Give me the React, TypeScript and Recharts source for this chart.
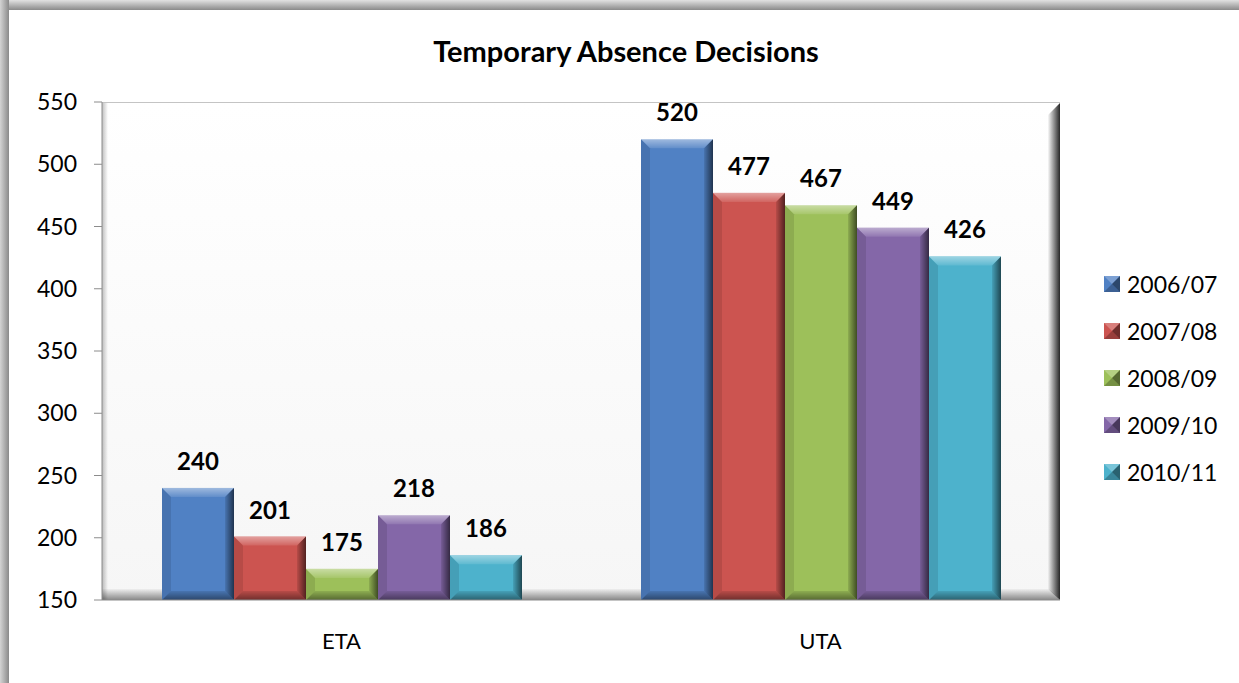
import { BarChart, Bar, XAxis, YAxis, LabelList } from "recharts";

const CATEGORIES = ["ETA", "UTA"];
const SERIES = ["2006/07", "2007/08", "2008/09", "2009/10", "2010/11"];
const VALUES_2006 = [240, 520];
const VALUES_2007 = [201, 477];
const VALUES_2008 = [175, 467];
const VALUES_2009 = [218, 449];
const VALUES_2010 = [186, 426];
const Y_TICKS = [150, 200, 250, 300, 350, 400, 450, 500, 550];

const COLORS = [
    "#5081C4", // blue
    "#CC5450", // red
    "#9DC05A", // green
    "#8467A8", // purple
    "#4DB2CC", // teal
];

const SERIES_VALUES = [VALUES_2006, VALUES_2007, VALUES_2008, VALUES_2009, VALUES_2010];

const data = CATEGORIES.map((name, i) => {
    const row: any = { name };
    SERIES.forEach((s, j) => { row[s] = SERIES_VALUES[j][i]; });
    return row;
});

const FONT = "Lato, 'Open Sans', sans-serif";

// bevelled bar, like the old office "3d" look
const BevelBar = (props: any) => {
    const { x, y, width, height, fill, index, dataKey } = props;
    if (!width || !height || height <= 0) return null;
    const b = Math.min(9, width / 4, height / 2);
    const w = width, h = height;
    const id = `bv-${String(dataKey).replace("/", "")}-${index}`;
    return (
        <g>
            <defs>
                <linearGradient id={id + "r"} x1="0" y1="0" x2="1" y2="0">
                    <stop offset="0" stopColor="#000" stopOpacity={0.1} />
                    <stop offset="1" stopColor="#000" stopOpacity={0.6} />
                </linearGradient>
                <linearGradient id={id + "b"} x1="0" y1="0" x2="0" y2="1">
                    <stop offset="0" stopColor="#000" stopOpacity={0.1} />
                    <stop offset="1" stopColor="#000" stopOpacity={0.45} />
                </linearGradient>
                <linearGradient id={id + "t"} x1="0" y1="0" x2="0" y2="1">
                    <stop offset="0" stopColor="#fff" stopOpacity={0.45} />
                    <stop offset="1" stopColor="#fff" stopOpacity={0.1} />
                </linearGradient>
            </defs>
            <rect x={x} y={y} width={w} height={h} fill={fill} />
            <polygon points={`${x},${y} ${x + w},${y} ${x + w - b},${y + b} ${x + b},${y + b}`} fill={`url(#${id}t)`} />
            <polygon points={`${x},${y} ${x + b},${y + b} ${x + b},${y + h - b} ${x},${y + h}`} fill="#000" fillOpacity={0.1} />
            <polygon points={`${x + w},${y} ${x + w},${y + h} ${x + w - b},${y + h - b} ${x + w - b},${y + b}`} fill={`url(#${id}r)`} />
            <polygon points={`${x},${y + h} ${x + b},${y + h - b} ${x + w - b},${y + h - b} ${x + w},${y + h}`} fill={`url(#${id}b)`} />
        </g>
    );
};

const LegendIcon = ({ color }: { color: string }) => (
    <svg width={16} height={16} style={{ display: "block" }}>
        <rect x={0} y={0} width={16} height={16} fill={color} />
        <polygon points="0,0 16,0 8,8" fill="#fff" fillOpacity={0.25} />
        <polygon points="16,0 16,16 8,8" fill="#000" fillOpacity={0.45} />
        <polygon points="0,16 16,16 8,8" fill="#000" fillOpacity={0.25} />
    </svg>
);

export default function App() {
    return (
        <div style={{ position: "absolute", left: 0, top: 0, width: 1239, height: 683, background: "#fff", overflow: "hidden", fontFamily: FONT }}>
            {/* frame */}
            <div style={{ position: "absolute", left: 0, top: 0, width: 1239, height: 10, background: "linear-gradient(to bottom, #e2e2e2, #8a8a8a)" }} />
            <div style={{ position: "absolute", left: 0, top: 0, width: 9, height: 683, background: "linear-gradient(to right, #d4d4d4, #8a8a8a)" }} />

            {/* plot panel */}
            <div style={{ position: "absolute", left: 102, top: 102, width: 958, height: 498, background: "linear-gradient(to bottom, #ffffff, #f6f6f6)", borderTop: "1px solid #c4c4c4", boxSizing: "border-box" }}>
                <div style={{ position: "absolute", left: 0, top: 0, width: 6, height: "100%", background: "linear-gradient(to right, rgba(0,0,0,0.25), rgba(0,0,0,0))" }} />
                <div style={{ position: "absolute", left: 0, bottom: 0, width: "100%", height: 11, background: "linear-gradient(to bottom, rgba(0,0,0,0.03), rgba(0,0,0,0.45))", clipPath: "polygon(0 0, calc(100% - 11px) 0, 100% 100%, 0 100%)" }} />
                <div style={{ position: "absolute", right: 0, top: 0, width: 12, height: "100%", background: "linear-gradient(to right, rgba(0,0,0,0.02), rgba(0,0,0,0.85))", clipPath: "polygon(0 12px, 100% 0, 100% 100%, 0 calc(100% - 11px))" }} />
            </div>

            <div style={{ position: "absolute", left: 0, top: 33, width: 1252, textAlign: "center", fontSize: 29, fontWeight: 700, color: "#000" }}>
                Temporary Absence Decisions
            </div>

            <div style={{ position: "absolute", left: 0, top: 0 }}>
                <BarChart width={1239} height={683} data={data} margin={{ top: 102, right: 179, bottom: 43, left: 0 }} barGap={0} barSize={72}>
                    <XAxis dataKey="name" height={40} tickSize={0} tickMargin={33} axisLine={{ stroke: "#8c8c8c" }} tick={{ fill: "#000", fontSize: 22, fontFamily: FONT }} />
                    <YAxis width={102} domain={[150, 550]} ticks={Y_TICKS} tickSize={8} tickMargin={17} axisLine={{ stroke: "#8c8c8c" }} tickLine={{ stroke: "#8c8c8c" }} tick={{ fill: "#000", fontSize: 23, fontFamily: FONT }} />
                    {SERIES.map((s, i) => (
                        <Bar key={s} dataKey={s} fill={COLORS[i]} shape={<BevelBar />} isAnimationActive={false}>
                            <LabelList dataKey={s} position="top" offset={18} style={{ fill: "#000", fontSize: 24, fontWeight: 700, fontFamily: FONT }} />
                        </Bar>
                    ))}
                </BarChart>
            </div>

            {/* legend */}
            <div style={{ position: "absolute", left: 1104, top: 270 }}>
                {SERIES.map((s, i) => (
                    <div key={s} style={{ display: "flex", alignItems: "center", height: 28, marginBottom: 19 }}>
                        <LegendIcon color={COLORS[i]} />
                        <span style={{ marginLeft: 7, fontSize: 23, color: "#000", lineHeight: "28px" }}>{s}</span>
                    </div>
                ))}
            </div>
        </div>
    );
}
